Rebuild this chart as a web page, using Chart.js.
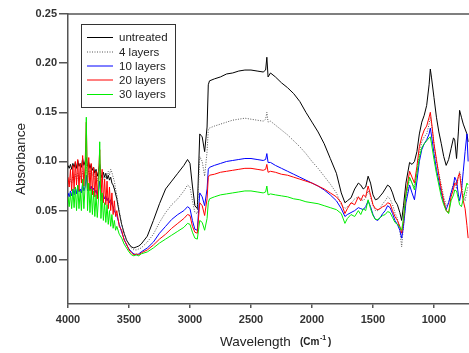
<!DOCTYPE html>
<html>
<head>
<meta charset="utf-8">
<script src="https://cdn.jsdelivr.net/npm/chart.js@4.4.1/dist/chart.umd.min.js"></script>
<style>
  html, body { margin: 0; padding: 0; background: #fff; }
  #wrap { width: 469px; height: 353px; }
</style>
</head>
<body>
<div id="wrap"><canvas id="ftir" width="469" height="353"></canvas></div>
<script>
// FTIR spectra - absorbance vs wavenumber

const wavenumbers = [
  4000,3990,3980,3970,3960,3950,3940,3930,3920,3910,3900,3890,3880,3870,3860,3850,3840,3830,3820,3810,3800,3790,3780,3770,3760,3750,3740,3730,3720,3710,3700,3690,3680,3670,3660,3650,3640,3630,3620,3610,3600,
  3580,3560,3540,3520,3500,3480,3460,3440,3420,3400,
  3350,3300,3250,3200,3150,3100,3050,3020,3000,2980,2960,2940,2920,2900,2880,2860,2850,2840,2800,2750,2700,2650,2600,2550,2500,2450,2400,2380,2370,2360,2340,2300,
  2250,2200,2150,2100,2050,2000,1950,1900,1850,1800,1760,1730,1710,1680,1650,1620,1600,1580,1560,1540,1520,1500,1480,1460,1440,1420,1400,1380,1360,1340,1320,1300,1280,1265,1250,1230,1200,1180,1160,1140,1120,1100,1080,1060,1040,1030,1020,1000,980,960,940,920,900,880,860,840,830,815,800,790,775,760,745,730,720
];

const untreated = [
  0.096,0.093,0.097,0.092,0.098,0.094,0.099,0.093,0.101,0.095,0.098,0.094,0.103,0.096,0.100,0.104,0.095,0.099,0.093,0.097,0.091,0.094,0.088,0.092,0.085,0.090,0.097,0.087,0.083,0.089,0.084,0.088,0.082,0.086,0.081,0.084,0.078,0.076,0.072,0.067,0.062,
  0.048,0.036,0.027,0.020,0.016,0.013,0.012,0.013,0.014,0.016,
  0.024,0.040,0.057,0.072,0.080,0.088,0.096,0.102,0.098,0.075,0.055,0.052,0.128,0.125,0.110,0.135,0.178,0.182,0.184,0.186,0.189,0.190,0.192,0.193,0.193,0.192,0.191,0.193,0.206,0.186,0.190,0.186,
  0.180,0.175,0.169,0.161,0.150,0.140,0.130,0.118,0.103,0.088,0.068,0.058,0.060,0.063,0.072,0.078,0.076,0.072,0.074,0.085,0.078,0.066,0.061,0.062,0.065,0.068,0.072,0.076,0.074,0.068,0.060,0.056,0.048,0.040,0.055,0.078,0.099,0.097,0.100,0.110,0.128,0.140,0.147,0.157,0.178,0.194,0.185,0.165,0.145,0.130,0.118,0.105,0.096,0.102,0.113,0.124,0.122,0.103,0.130,0.152,0.145,0.138,0.133,0.128,0.120
];

const layers4 = [
  0.080,0.077,0.082,0.078,0.085,0.079,0.087,0.080,0.088,0.082,0.085,0.081,0.090,0.083,0.088,0.096,0.084,0.091,0.085,0.093,0.086,0.089,0.082,0.087,0.080,0.086,0.092,0.083,0.079,0.085,0.081,0.087,0.084,0.090,0.086,0.092,0.089,0.084,0.080,0.072,0.066,
  0.050,0.036,0.027,0.020,0.015,0.012,0.010,0.010,0.011,0.012,
  0.018,0.026,0.038,0.048,0.056,0.062,0.070,0.076,0.074,0.060,0.048,0.047,0.105,0.100,0.085,0.110,0.132,0.134,0.136,0.138,0.140,0.142,0.143,0.144,0.143,0.142,0.141,0.143,0.150,0.140,0.141,0.137,
  0.132,0.127,0.121,0.115,0.108,0.100,0.093,0.085,0.077,0.068,0.056,0.052,0.054,0.057,0.062,0.064,0.062,0.060,0.063,0.070,0.064,0.055,0.050,0.050,0.053,0.057,0.060,0.064,0.062,0.056,0.048,0.042,0.030,0.013,0.035,0.062,0.083,0.078,0.074,0.090,0.108,0.120,0.125,0.128,0.138,0.145,0.138,0.118,0.100,0.088,0.076,0.064,0.055,0.058,0.068,0.078,0.080,0.072,0.085,0.090,0.078,0.065,0.060,0.070,0.075
];

const layers10 = [
  0.068,0.064,0.070,0.065,0.072,0.066,0.074,0.067,0.075,0.069,0.072,0.068,0.078,0.070,0.074,0.086,0.070,0.077,0.071,0.075,0.070,0.073,0.068,0.071,0.065,0.069,0.080,0.067,0.063,0.066,0.062,0.065,0.060,0.063,0.058,0.061,0.056,0.054,0.050,0.047,0.045,
  0.036,0.028,0.021,0.015,0.011,0.008,0.006,0.005,0.006,0.008,
  0.012,0.018,0.027,0.034,0.041,0.046,0.050,0.054,0.052,0.040,0.031,0.030,0.068,0.064,0.055,0.072,0.092,0.094,0.096,0.098,0.100,0.101,0.102,0.103,0.103,0.102,0.101,0.102,0.108,0.099,0.099,0.096,
  0.093,0.090,0.087,0.084,0.081,0.078,0.075,0.071,0.066,0.060,0.052,0.044,0.046,0.048,0.050,0.053,0.052,0.051,0.054,0.060,0.054,0.046,0.041,0.040,0.043,0.047,0.050,0.055,0.053,0.047,0.040,0.036,0.030,0.022,0.034,0.058,0.076,0.068,0.061,0.080,0.100,0.112,0.118,0.122,0.128,0.134,0.126,0.108,0.092,0.080,0.068,0.058,0.051,0.058,0.068,0.076,0.084,0.080,0.066,0.060,0.070,0.090,0.110,0.128,0.100
];

const layers20 = [
  0.084,0.074,0.092,0.070,0.096,0.072,0.100,0.076,0.102,0.070,0.098,0.078,0.106,0.075,0.096,0.140,0.072,0.104,0.070,0.098,0.066,0.094,0.064,0.090,0.062,0.086,0.112,0.060,0.092,0.058,0.082,0.056,0.080,0.052,0.074,0.050,0.068,0.046,0.060,0.044,0.050,
  0.034,0.030,0.020,0.016,0.010,0.007,0.005,0.006,0.005,0.007,
  0.010,0.015,0.021,0.026,0.032,0.037,0.042,0.046,0.045,0.034,0.028,0.027,0.058,0.055,0.045,0.062,0.084,0.086,0.087,0.089,0.090,0.091,0.092,0.093,0.093,0.092,0.091,0.092,0.097,0.089,0.090,0.089,
  0.087,0.086,0.084,0.082,0.080,0.078,0.075,0.072,0.068,0.064,0.058,0.047,0.052,0.058,0.056,0.064,0.060,0.066,0.064,0.075,0.066,0.056,0.052,0.051,0.052,0.054,0.055,0.058,0.057,0.050,0.044,0.040,0.034,0.027,0.040,0.068,0.090,0.084,0.078,0.095,0.115,0.125,0.132,0.136,0.145,0.150,0.140,0.118,0.102,0.086,0.072,0.060,0.050,0.048,0.064,0.072,0.078,0.076,0.085,0.088,0.072,0.060,0.052,0.035,0.022
];

const layers30 = [
  0.064,0.054,0.068,0.052,0.072,0.053,0.074,0.050,0.076,0.052,0.070,0.050,0.082,0.052,0.074,0.145,0.050,0.078,0.048,0.072,0.046,0.070,0.044,0.066,0.043,0.062,0.120,0.042,0.068,0.040,0.058,0.038,0.056,0.036,0.050,0.034,0.046,0.032,0.040,0.030,0.034,
  0.026,0.022,0.016,0.012,0.008,0.005,0.004,0.005,0.004,0.006,
  0.008,0.012,0.017,0.021,0.025,0.029,0.033,0.037,0.036,0.028,0.022,0.021,0.040,0.038,0.030,0.042,0.058,0.062,0.064,0.066,0.067,0.068,0.069,0.070,0.070,0.069,0.068,0.069,0.075,0.066,0.067,0.066,
  0.065,0.064,0.062,0.061,0.059,0.058,0.057,0.055,0.053,0.051,0.047,0.037,0.042,0.046,0.044,0.050,0.046,0.052,0.050,0.061,0.052,0.045,0.041,0.041,0.043,0.045,0.046,0.049,0.048,0.043,0.038,0.036,0.033,0.030,0.042,0.066,0.084,0.078,0.071,0.088,0.104,0.114,0.118,0.121,0.124,0.125,0.118,0.102,0.088,0.076,0.064,0.056,0.050,0.047,0.060,0.066,0.071,0.070,0.062,0.056,0.054,0.062,0.070,0.078,0.076
];

const seriesNames = ['untreated', '4 layers', '10 layers', '20 layers', '30 layers'];
const seriesColors = ['#000000', '#555555', '#0000ff', '#ff0000', '#00ee00'];
const xTicks = [4000, 3500, 3000, 2500, 2000, 1500, 1000];
const yTicks = [0, 0.05, 0.10, 0.15, 0.20, 0.25];

const allSeries = [untreated, layers4, layers10, layers20, layers30];

function toPoints(values) {
  return wavenumbers.map((w, i) => ({ x: w, y: values[i] }));
}

// index 0 is drawn on top, so reverse: 30 layers ends up above the rest
const datasets = allSeries.map((vals, i) => ({
  label: seriesNames[i],
  data: toPoints(vals),
  borderColor: seriesColors[i],
  borderWidth: 1,
  borderDash: i === 1 ? [1, 1.5] : [],
  pointRadius: 0,
  tension: 0,
  fill: false
})).reverse();

const axisColor = '#555555';
const labelFont = '"Liberation Sans", Arial, sans-serif';

// legend box inside the plot + axis titles
const extrasPlugin = {
  id: 'extras',
  afterDraw(chart) {
    const ctx = chart.ctx;
    const area = chart.chartArea;
    ctx.save();

    // top frame line
    ctx.strokeStyle = axisColor;
    ctx.lineWidth = 1.5;
    ctx.beginPath();
    ctx.moveTo(area.left, area.top);
    ctx.lineTo(area.right, area.top);
    ctx.stroke();

    // legend
    ctx.lineWidth = 1;
    ctx.strokeStyle = '#333';
    ctx.strokeRect(81.5, 24.5, 94, 83);
    const rows = [37, 51.5, 65.5, 79.5, 94];
    ctx.font = '11.5px ' + labelFont;
    ctx.textBaseline = 'middle';
    ctx.textAlign = 'left';
    seriesNames.forEach((name, i) => {
      ctx.strokeStyle = seriesColors[i];
      ctx.setLineDash(i === 1 ? [1, 1.5] : []);
      ctx.beginPath();
      ctx.moveTo(87, rows[i] + 0.5);
      ctx.lineTo(113, rows[i] + 0.5);
      ctx.stroke();
      ctx.setLineDash([]);
      ctx.fillStyle = '#222';
      ctx.fillText(name, 119, rows[i] + 1);
    });

    // y title
    ctx.fillStyle = '#222';
    ctx.font = '13.5px ' + labelFont;
    ctx.translate(21, 159);
    ctx.rotate(-Math.PI / 2);
    ctx.textAlign = 'center';
    ctx.fillText('Absorbance', 0, 0);
    ctx.setTransform(1, 0, 0, 1, 0, 0);

    // x title
    ctx.textAlign = 'left';
    ctx.font = '13.5px ' + labelFont;
    ctx.fillText('Wavelength', 220, 342);
    ctx.font = 'bold 10px ' + labelFont;
    ctx.fillText('(Cm', 300, 342);
    ctx.font = 'bold 7px ' + labelFont;
    ctx.fillText('-1', 320, 338);
    ctx.font = 'bold 10px ' + labelFont;
    ctx.fillText(')', 328, 342);

    ctx.restore();
  }
};

new Chart(document.getElementById('ftir'), {
  type: 'line',
  data: { datasets: datasets },
  options: {
    responsive: false,
    animation: false,
    events: [],
    layout: { padding: { top: 14, right: 0, left: 0, bottom: 0 } },
    plugins: {
      legend: { display: false },
      tooltip: { enabled: false }
    },
    scales: {
      x: {
        type: 'linear',
        reverse: true,
        min: 713,
        max: 4000,
        afterBuildTicks: function (scale) {
          scale.ticks = xTicks.map(v => ({ value: v }));
        },
        afterFit: function (scale) { scale.height = 49; },
        border: { display: true, color: axisColor, width: 1.5 },
        grid: { drawOnChartArea: false, drawTicks: true, tickLength: 4, color: axisColor, lineWidth: 1.5 },
        ticks: {
          padding: 5,
          maxRotation: 0,
          color: '#333',
          font: { family: labelFont, size: 11, weight: 'bold' },
          callback: v => String(v)
        }
      },
      y: {
        min: -0.045,
        max: 0.25,
        afterBuildTicks: function (scale) {
          scale.ticks = yTicks.map(v => ({ value: v }));
        },
        afterFit: function (scale) { scale.width = 68; },
        border: { display: true, color: axisColor, width: 1.5 },
        grid: { drawOnChartArea: false, drawTicks: true, tickLength: 9, color: axisColor, lineWidth: 1.5 },
        ticks: {
          padding: 2,
          color: '#333',
          font: { family: labelFont, size: 11, weight: 'bold' },
          callback: v => v.toFixed(2)
        }
      }
    }
  },
  plugins: [extrasPlugin]
});
</script>
</body>
</html>
